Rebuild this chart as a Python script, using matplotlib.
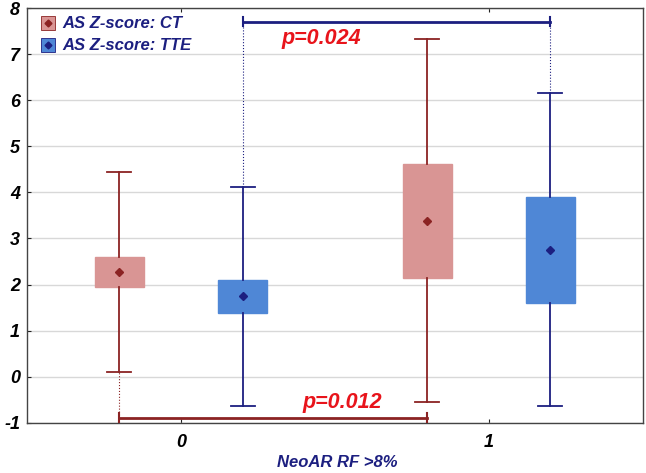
import numpy as np
import matplotlib.pyplot as plt
from matplotlib.lines import Line2D

plt.rcParams['font.family'] = ['Liberation Sans', 'DejaVu Sans']
plt.rcParams['axes.unicode_minus'] = False

# groups (NeoAR RF >8%) and box summaries
groups = [0, 1]
ct_low = [0.11, -0.55]
ct_q1 = [1.95, 2.14]
ct_mean = [2.28, 3.38]
ct_q3 = [2.60, 4.62]
ct_high = [4.45, 7.32]

tte_low = [-0.63, -0.63]
tte_q1 = [1.39, 1.60]
tte_mean = [1.76, 2.75]
tte_q3 = [2.10, 3.90]
tte_high = [4.12, 6.15]

p_top = "p=0.024"
p_bottom = "p=0.012"

ct_fill = '#d99594'
ct_line = '#8b2323'
tte_fill = '#4f87d6'
tte_line = '#1c1f80'

fig = plt.figure(figsize=(6.46, 4.73), dpi=100)
ax = fig.add_axes([0.042, 0.106, 0.953, 0.877])

def stats(lo, q1, m, q3, hi):
    out = []
    for i in range(len(lo)):
        out.append(dict(whislo=lo[i], q1=q1[i], med=m[i], q3=q3[i], whishi=hi[i], mean=m[i], fliers=[]))
    return out

off = 0.2
ct_pos = [g - off for g in groups]
tte_pos = [g + off for g in groups]

for st, pos, fill, line in [(stats(ct_low, ct_q1, ct_mean, ct_q3, ct_high), ct_pos, ct_fill, ct_line),
                            (stats(tte_low, tte_q1, tte_mean, tte_q3, tte_high), tte_pos, tte_fill, tte_line)]:
    ax.bxp(st, positions=pos, widths=0.16, patch_artist=True, showmeans=True, showfliers=False,
           boxprops=dict(facecolor=fill, edgecolor=fill, linewidth=1),
           whiskerprops=dict(color=line, linewidth=1.3),
           capprops=dict(color=line, linewidth=1.3),
           capwidths=0.078,
           medianprops=dict(linewidth=0),
           meanprops=dict(marker='D', markersize=4, markerfacecolor=line, markeredgecolor=line),
           zorder=3)

# top bracket: TTE 0 vs TTE 1
yb_top = 7.7
ax.plot([tte_pos[0], tte_pos[1]], [yb_top, yb_top], color=tte_line, lw=2, zorder=4)
for x in tte_pos:
    ax.plot([x, x], [yb_top - 0.1, yb_top + 0.1], color=tte_line, lw=1.5, zorder=4)
ax.plot([tte_pos[0], tte_pos[0]], [tte_high[0], yb_top], color=tte_line, lw=0.8, ls=':', zorder=2)
ax.plot([tte_pos[1], tte_pos[1]], [tte_high[1], yb_top], color=tte_line, lw=0.8, ls=':', zorder=2)
ax.text(0.455, 7.33, p_top, color='#e8141b', fontsize=15.5, fontweight='bold', style='italic',
        ha='center', va='center')

# bottom bracket: CT 0 vs CT 1
yb_bot = -0.89
ax.plot([ct_pos[0], ct_pos[1]], [yb_bot, yb_bot], color=ct_line, lw=2, zorder=4)
for x in ct_pos:
    ax.plot([x, x], [yb_bot - 0.1, yb_bot + 0.1], color=ct_line, lw=1.5, zorder=4)
ax.plot([ct_pos[0], ct_pos[0]], [yb_bot, ct_low[0]], color=ct_line, lw=0.8, ls=':', zorder=2)
ax.text(0.525, -0.55, p_bottom, color='#e8141b', fontsize=15.5, fontweight='bold', style='italic',
        ha='center', va='center')

ax.set_xlim(-0.5, 1.5)
ax.set_ylim(-1, 8)
ax.set_yticks(range(-1, 9))
ax.set_xticks(groups)
ax.set_xticklabels([str(g) for g in groups])
ax.tick_params(direction='in', length=3, top=True, right=False, labelsize=13, colors='#222222')
ax.tick_params(axis='x', pad=8)
ax.tick_params(axis='y', pad=5)
for lab in ax.get_xticklabels() + ax.get_yticklabels():
    lab.set_fontweight('bold')
    lab.set_fontstyle('italic')
    lab.set_color('black')
ax.grid(axis='y', color='#d8d8d8', lw=1)
ax.set_axisbelow(True)
for s in ax.spines.values():
    s.set_color('#444444')
    s.set_linewidth(1)

fig.text(0.522, 0.022, 'NeoAR RF >8%', color='#1c1f80', fontsize=12, fontweight='bold', style='italic',
         ha='center', va='center')

h_ct = (Line2D([], [], marker='s', ls='', markersize=9.5, markerfacecolor=ct_fill, markeredgecolor=ct_line, markeredgewidth=0.6),
        Line2D([], [], marker='D', ls='', markersize=3.5, color=ct_line))
h_tte = (Line2D([], [], marker='s', ls='', markersize=9.5, markerfacecolor=tte_fill, markeredgecolor=tte_line, markeredgewidth=0.6),
         Line2D([], [], marker='D', ls='', markersize=3.5, color=tte_line))
leg = ax.legend([h_ct, h_tte], ['AS Z-score: CT', 'AS Z-score: TTE'], loc='upper left', frameon=False,
                bbox_to_anchor=(0.01, 0.998),
                handlelength=0.9, handletextpad=0.4, labelspacing=0.42, borderaxespad=0.05,
                prop=dict(size=12, weight='bold', style='italic'))
for t in leg.get_texts():
    t.set_color('#1c1f80')

fig.savefig('out.png', dpi=100)
